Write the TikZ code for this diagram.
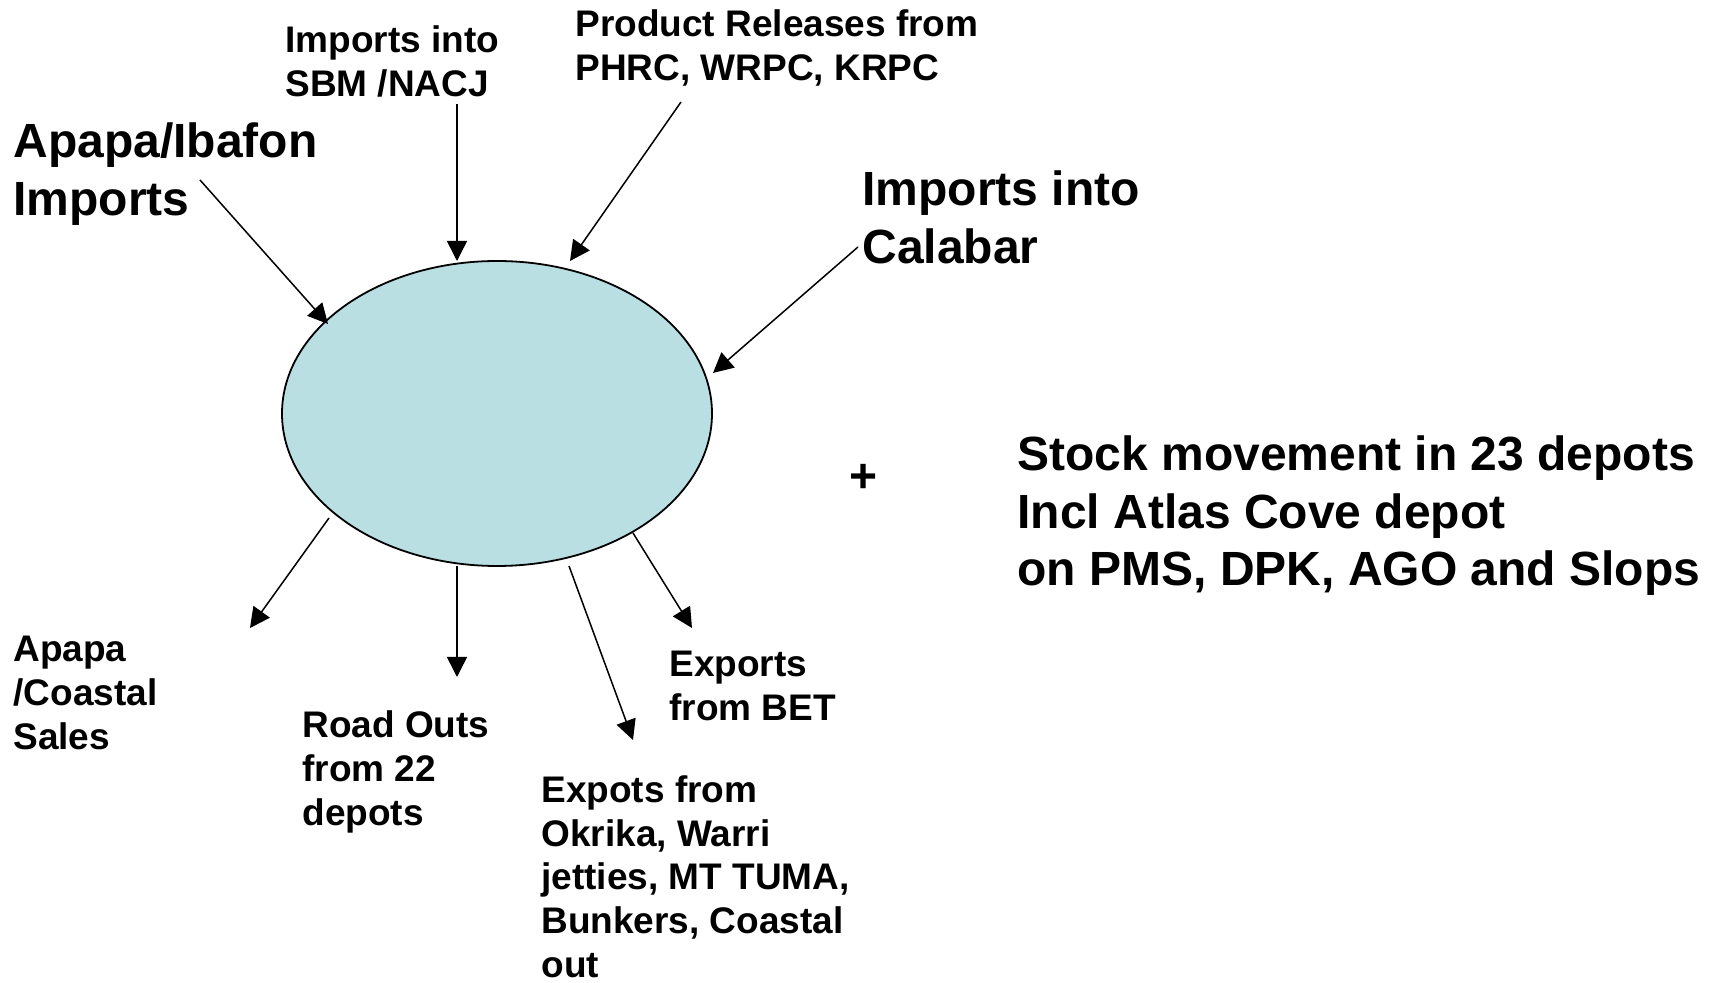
\documentclass[tikz,border=0pt]{standalone}
\usepackage{fontspec}
\setmainfont{Liberation Sans}
\usetikzlibrary{arrows.meta,shapes.geometric}
\definecolor{poolfill}{RGB}{185,223,227}
\tikzset{
  small/.style={anchor=base west, inner sep=0pt, align=left, font=\bfseries\fontsize{18.5pt}{22pt}\selectfont},
  big/.style={anchor=base west, inner sep=0pt, align=left, font=\bfseries\fontsize{24pt}{28.75pt}\selectfont},
  flow/.style={line width=0.75pt, -{Triangle[length=10pt,width=10pt]}},
  pool/.style={ellipse, draw=black, line width=0.9pt, fill=poolfill, minimum width=215pt, minimum height=152.5pt, inner sep=0pt}
}
\begin{document}
\begin{tikzpicture}[x=0.5pt,y=-0.5pt]
\useasboundingbox (0,0) rectangle (1715,983);
\node[pool] (pool) at (497,413.5) {};
% labels (anchored at the baseline of their last line)
\node[small] (sbm) at (285,97) {Imports into\\SBM /NACJ};
\node[small] (prod) at (575,81) {Product Releases from\\PHRC, WRPC, KRPC};
\node[big] (apimp) at (13,215.5) {Apapa/Ibafon\\Imports};
\node[big] (calabar) at (862,263.5) {Imports into\\Calabar};
\node[big] (stock) at (1017,586) {Stock movement in 23 depots\\Incl Atlas Cove depot\\on PMS, DPK, AGO and Slops};
\node[inner sep=0pt, font=\bfseries\fontsize{24pt}{28.75pt}\selectfont] (plus) at (864,478) {+};
\node[small] (coastal) at (13,750) {Apapa\\/Coastal\\Sales};
\node[small] (road) at (302,826) {Road Outs\\from 22\\depots};
\node[small] (bet) at (669,721) {Exports\\from BET};
\node[small] (expots) at (541,978) {Expots from\\Okrika, Warri\\jetties, MT TUMA,\\Bunkers, Coastal\\out};
% arrow ends
\coordinate (s1) at (200,180); \coordinate (t1) at (328,324);
\coordinate (s2) at (457,104); \coordinate (t2) at (457,261);
\coordinate (s3) at (681,102); \coordinate (t3) at (570,261);
\coordinate (s4) at (858,247); \coordinate (t4) at (713,373);
\coordinate (s5) at (329,518); \coordinate (t5) at (250,628);
\coordinate (s6) at (457,566); \coordinate (t6) at (457,677);
\coordinate (s7) at (569,566); \coordinate (t7) at (633,740);
\coordinate (s8) at (633,533); \coordinate (t8) at (692,628);
\draw[flow] (s1) -- (t1);
\draw[flow] (s2) -- (t2);
\draw[flow] (s3) -- (t3);
\draw[flow] (s4) -- (t4);
\draw[flow] (s5) -- (t5);
\draw[flow] (s6) -- (t6);
\draw[flow] (s7) -- (t7);
\draw[flow] (s8) -- (t8);
\end{tikzpicture}
\end{document}
